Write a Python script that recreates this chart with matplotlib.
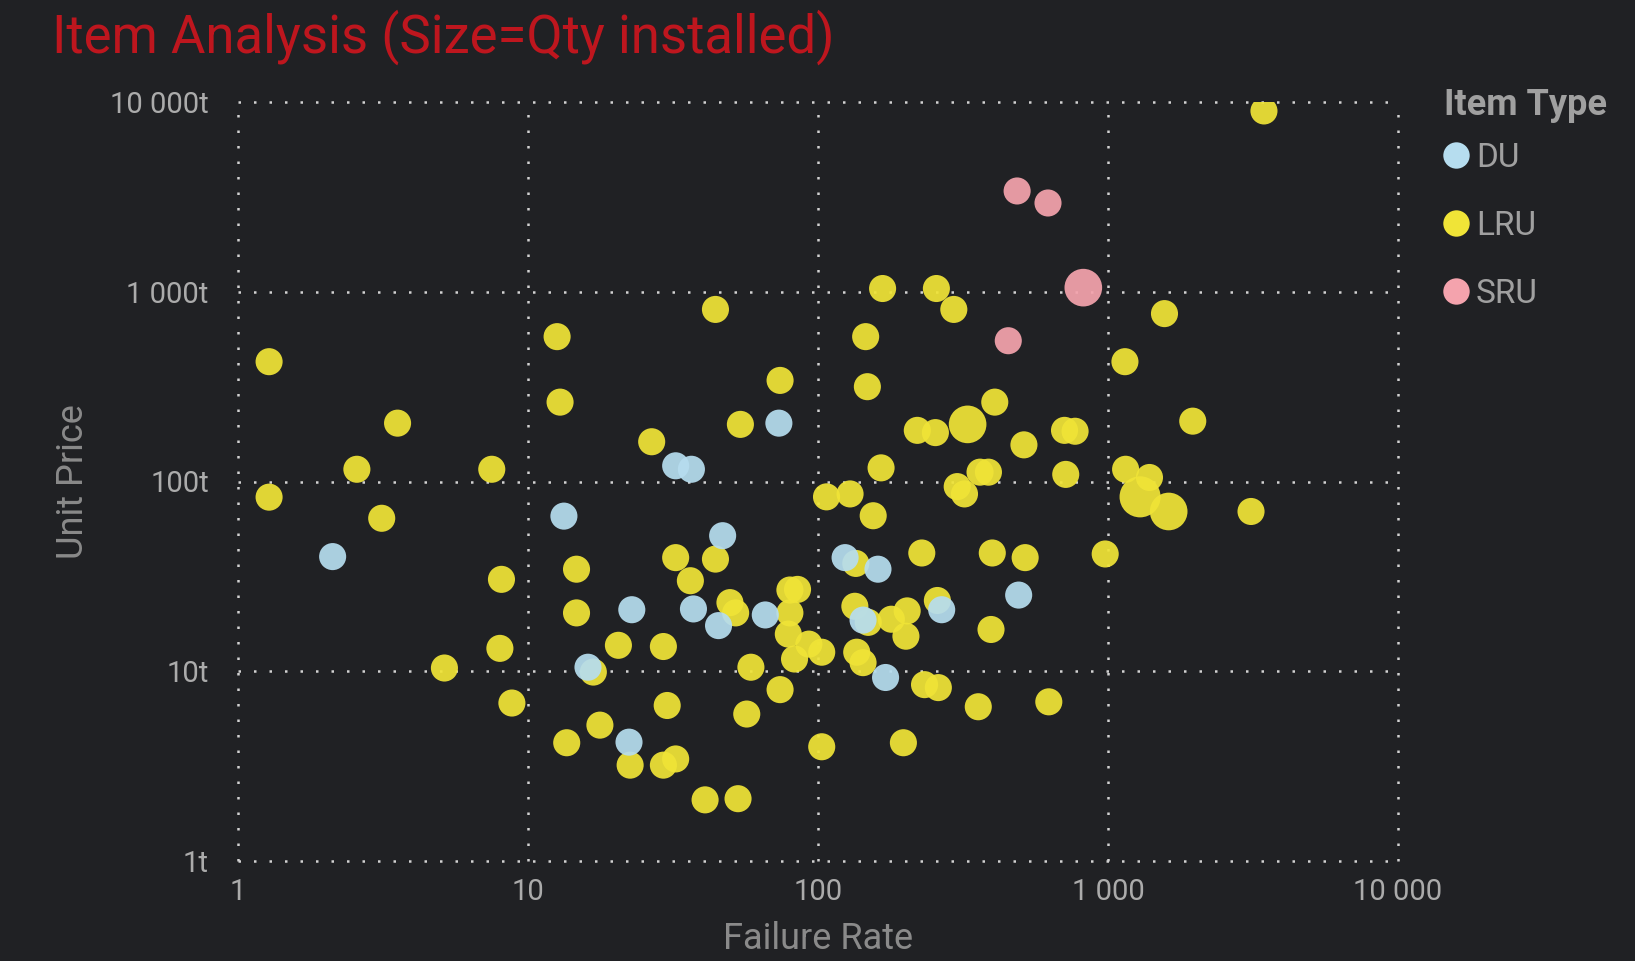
import matplotlib
matplotlib.use("Agg")
import matplotlib.pyplot as plt
from matplotlib.lines import Line2D
import numpy as np

# ---- data: failure rate (x), unit price (y), qty installed (size) per item type ----
du_rate = [2.12, 13.3, 32.3, 36.6, 73.3, 46.9, 22.8, 37.2, 45.4, 65.8,
           16.1, 22.3, 124, 161, 143, 171, 267, 492]
du_price = [40.2, 65.7, 121, 116, 203, 51.8, 21.1, 21.3, 17.4, 19.8,
            10.5, 4.23, 39.7, 34.5, 18.6, 9.27, 21.1, 25.2]
du_qty = [1] * 18

lru_rate = [3450, 1.28, 1.28, 3.55, 2.57, 3.13, 7.5, 5.15, 8.1, 8.0,
            8.8, 12.6, 12.9, 14.7, 14.7, 16.8, 20.5, 17.7, 13.6, 22.5,
            29.3, 30.2, 29.3, 32.3, 40.8, 53, 26.7, 32.3, 36.3, 44.3,
            44.3, 49.7, 52, 54, 58.7, 56.8, 74, 74, 80, 85,
            80, 79, 83, 93, 103, 103, 107, 129, 135, 134,
            136, 143, 149, 155, 148, 146, 165, 167, 179, 203,
            201, 197, 220, 254, 228, 233, 260, 258, 256, 294,
            328, 302, 320, 362, 387, 407, 399, 395, 357, 513,
            518, 625, 708, 770, 715, 978, 1144, 1566, 1150, 1290,
            1390, 1619, 1960, 3113]
lru_price = [8970, 428, 82.7, 203, 116, 64, 116, 10.4, 30.5, 13.2,
             6.8, 580, 262, 34.5, 20.3, 9.9, 13.7, 5.2, 4.2, 3.2,
             13.5, 6.6, 3.2, 3.45, 2.1, 2.13, 162, 39.7, 30, 39,
             807, 23, 20.3, 200, 10.5, 5.95, 341, 8.0, 26.8, 27,
             20.3, 15.7, 11.6, 13.9, 12.6, 4.0, 83, 86, 37, 22,
             12.6, 11.1, 18.1, 66, 316, 580, 118, 1040, 18.8, 20.8,
             15.3, 4.2, 186, 181, 42, 8.5, 8.2, 23.6, 1040, 807,
             200, 94, 86, 112, 112, 262, 42, 16.6, 6.5, 156,
             39.7, 6.9, 186, 184, 109, 41.5, 428, 767, 116, 83,
             105, 69.5, 208, 69.5]
lru_qty = [1] * 70 + [3] + [1] * 18 + [4, 1, 3, 1, 1]

sru_rate = [486, 621, 822, 453]
sru_price = [3397, 2936, 1051, 552]
sru_qty = [1, 1, 3, 1]

x_ticks = [1, 10, 100, 1000, 10000]
x_labels = ["1", "10", "100", "1 000", "10 000"]
y_ticks = [1, 10, 100, 1000, 10000]
y_labels = ["1t", "10t", "100t", "1 000t", "10 000t"]

BG = "#202124"
COLORS = {"DU": "#B6DDEF", "LRU": "#F0E437", "SRU": "#F4A3AD"}
FONT = "Roboto"

W, H = 1635, 961


def marker_size(qty):
    return 380 * np.asarray(qty, dtype=float) ** 0.6


fig = plt.figure(figsize=(W / 100, H / 100), dpi=100, facecolor=BG)
ax = fig.add_axes([238 / W, 1 - 861 / H, 1160 / W, 759 / H])
ax.set_facecolor(BG)
ax.set_xscale("log")
ax.set_yscale("log")
ax.set_xlim(1, 10000)
ax.set_ylim(1, 10000)

ax.scatter(lru_rate, lru_price, s=marker_size(lru_qty), color=COLORS["LRU"],
           alpha=0.93, linewidths=0, zorder=3)
ax.scatter(du_rate, du_price, s=marker_size(du_qty), color=COLORS["DU"],
           alpha=0.93, linewidths=0, zorder=3)
ax.scatter(sru_rate, sru_price, s=marker_size(sru_qty), color=COLORS["SRU"],
           alpha=0.93, linewidths=0, zorder=4)

ax.set_xticks(x_ticks, x_labels)
ax.set_yticks(y_ticks, y_labels)
ax.xaxis.set_minor_locator(matplotlib.ticker.NullLocator())
ax.yaxis.set_minor_locator(matplotlib.ticker.NullLocator())
ax.tick_params(axis="x", length=0, pad=12, labelsize=21, labelcolor="#ABABAB")
ax.tick_params(axis="y", length=0, pad=21, labelsize=21, labelcolor="#ABABAB")
for lab in ax.get_xticklabels() + ax.get_yticklabels():
    lab.set_fontfamily(FONT)

ax.grid(True, color="#D2D2D2", linestyle=(0, (1, 5.2)), linewidth=1.8, zorder=1)
ax.set_axisbelow(True)
for gl in ax.get_xgridlines() + ax.get_ygridlines():
    gl.set_clip_on(False)
for sp in ax.spines.values():
    sp.set_visible(False)

fig.text(52 / W, 1 - 37 / H, "Item Analysis (Size=Qty installed)", color="#BE161E",
         fontsize=38, family=FONT, ha="left", va="center")
fig.text(818 / W, 1 - 939 / H, "Failure Rate", color="#8A8A8A", fontsize=26,
         family=FONT, ha="center", va="center")
fig.text(73 / W, 1 - 482 / H, "Unit Price", color="#8A8A8A", fontsize=26,
         family=FONT, ha="center", va="center", rotation=90)

# legend title drawn separately so its gap to the entries can be set freely
fig.text(1444 / W, 1 - 105 / H, "Item Type", color="#A0A0A0", fontsize=26,
         family=FONT, weight="bold", ha="left", va="center")
handles = [Line2D([], [], marker="o", linestyle="none", markersize=19,
                  markerfacecolor=COLORS[k], markeredgewidth=0, label=k)
           for k in ["DU", "LRU", "SRU"]]
ax.legend(handles=handles, loc="upper left",
          bbox_to_anchor=(1441 / W, 1 - 142 / H), bbox_transform=fig.transFigure,
          frameon=False, prop={"family": FONT, "size": 24},
          labelspacing=1.08, handletextpad=0.15, handlelength=0.9,
          borderpad=0, borderaxespad=0, labelcolor="#A0A0A0")

fig.savefig("out.png", dpi=100, facecolor=BG)
